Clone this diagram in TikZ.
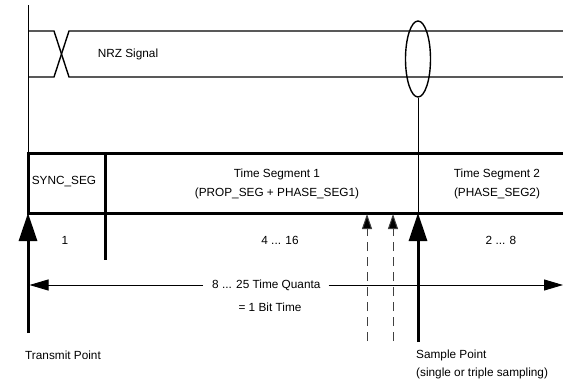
\documentclass[tikz,border=0pt]{standalone}
\usepackage{fontspec}
\setmainfont{Liberation Sans}
\usetikzlibrary{arrows.meta,shapes.geometric}
\begin{document}
\begin{tikzpicture}[x=1pt,y=-1pt,
  txt/.style={font=\fontsize{11.8}{13}\selectfont, inner sep=0pt},
  thin/.style={line width=0.9pt},
  sig/.style={line width=1.4pt},
  thickl/.style={line width=3pt},
  bigarrow/.style={line width=3pt,-{Triangle[length=28pt,width=18pt]}},
  dasharrow/.style={line width=1pt,dash pattern=on 9pt off 6pt,draw=black!75,-{Triangle[length=15pt,width=10pt,fill=black]}},
  spanarrow/.style={line width=0.9pt,-{Triangle[length=19pt,width=11pt]}}]
\useasboundingbox (0,0) rectangle (563,383);
% coordinates
\coordinate (vtop) at (28,5);
\coordinate (boxTL) at (28,153);
\coordinate (boxBL) at (28,213);
\coordinate (boxTR) at (563,153);
\coordinate (boxBR) at (563,213);
\coordinate (syncT) at (105,153);
\coordinate (syncB) at (105,260);
% left reference line
\draw[thin] (vtop) -- (boxTL);
% NRZ signal
\coordinate (s1) at (28,31); \coordinate (s2) at (54,31); \coordinate (s3) at (69,77); \coordinate (s4) at (563,77);
\coordinate (t1) at (28,77); \coordinate (t2) at (54,77); \coordinate (t3) at (69,31); \coordinate (t4) at (563,31);
\draw[sig] (s1) -- (s2) -- (s3) -- (s4);
\draw[sig] (t1) -- (t2) -- (t3) -- (t4);
\node[txt] (nrz) at (128,54) {NRZ Signal};
% ellipse and sample line
\node[draw,line width=1.4pt,ellipse,minimum width=25pt,minimum height=76pt,inner sep=0pt] (ell) at (418,59) {};
\coordinate (sampBot) at (418,213);
\draw[thin] (ell.south) -- (sampBot);
% bit time box
\draw[thickl] (boxTR) -- (boxTL) -- (boxBL) -- (boxBR);
\draw[thickl] (syncT) -- (syncB);
% labels in box
\node[txt] (sync) at (64,182) {SYNC\_SEG};
\node[txt,align=center] (ts1) at (277,184) {Time Segment 1\\[6pt](PROP\_SEG + PHASE\_SEG1)};
\node[txt,align=center] (ts2) at (497,184) {Time Segment 2\\[6pt](PHASE\_SEG2)};
\node[txt] (n1) at (65,240) {1};
\node[txt] (n2) at (280,240) {4 ... 16};
\node[txt] (n3) at (501,240) {2 ... 8};
% span arrow
\node[txt,anchor=west] (tq) at (212,285) {8 ... 25 Time Quanta};
\node[txt] (bt) at (270,307) {= 1 Bit Time};
\coordinate (spanL) at (29.5,285);
\coordinate (spanR) at (563,285);
\draw[spanarrow] (tq.west) ++(-9,0) -- (spanL);
\draw[spanarrow] (tq.east) ++(8,0) -- (spanR);
% transmit arrow
\coordinate (txB) at (28,333);
\draw[bigarrow] (txB) -- (boxBL);
\node[txt,anchor=west] (tx) at (25,355) {Transmit Point};
% dashed arrows
\coordinate (d1B) at (367,341); \coordinate (d1T) at (367,214);
\coordinate (d2B) at (393,341); \coordinate (d2T) at (393,214);
\draw[dasharrow] (d1B) -- (d1T);
\draw[dasharrow] (d2B) -- (d2T);
% sample arrow
\coordinate (spB) at (418,342);
\draw[bigarrow] (spB) -- (sampBot);
\node[txt,anchor=west] (sp) at (416,355) {Sample Point};
\node[txt,anchor=west] (sp2) at (416,373) {(single or triple sampling)};
\end{tikzpicture}
\end{document}
